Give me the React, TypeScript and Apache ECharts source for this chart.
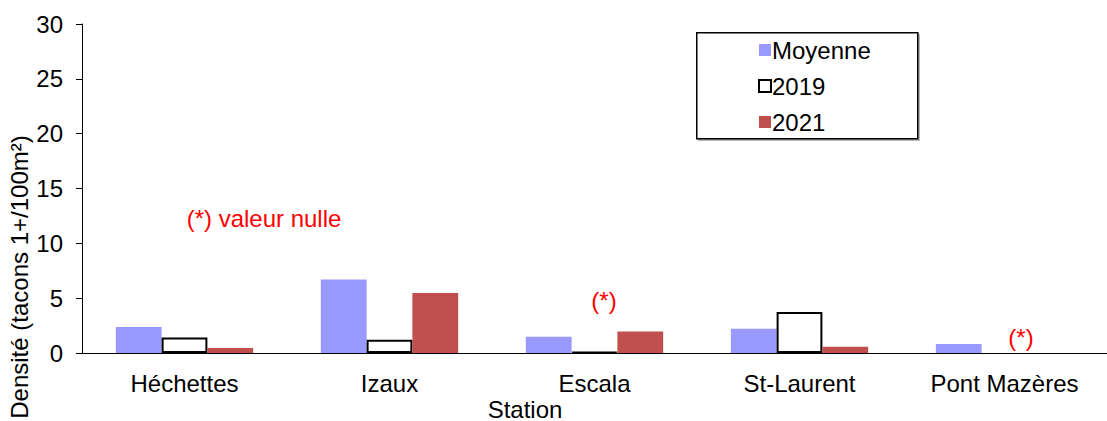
import React, { useEffect, useRef } from "react";
import * as echarts from "echarts";

// Densité de tacons par station
const stations = ["Héchettes", "Izaux", "Escala", "St-Laurent", "Pont Mazères"];
const moyenne = [2.37, 6.7, 1.49, 2.22, 0.82];
const annee2019 = [1.42, 1.21, 0, 3.74, null];
const annee2021 = [0.46, 5.46, 1.97, 0.57, null];
const seriesNames = ["Moyenne", "2019", "2021"];
const yTicks = { min: 0, max: 30, interval: 5 };

const FONT = "Liberation Sans, Arial, sans-serif";
const FS = 24;

export default function App() {
  const ref = useRef<HTMLDivElement>(null);

  useEffect(() => {
    document.body.style.margin = "0";
    const chart = echarts.init(ref.current!, undefined, { renderer: "svg" });
    const redText = (text: string, x: number, y: number) => ({
      type: "text",
      x,
      y,
      style: {
        text,
        fontSize: FS,
        fontFamily: FONT,
        fill: "#ff0000",
        align: "center",
        verticalAlign: "middle",
      },
    });
    chart.setOption({
      animation: false,
      backgroundColor: "#ffffff",
      textStyle: { fontFamily: FONT },
      grid: { left: 82, top: 24, width: 1033, height: 329, containLabel: false },
      legend: {
        orient: "vertical",
        left: 753,
        top: 33,
        itemWidth: 12,
        itemHeight: 12,
        itemGap: 12,
        icon: "rect",
        textStyle: { fontFamily: FONT, fontSize: FS, color: "#000", padding: [0, 0, 0, -4] },
        data: seriesNames,
      },
      xAxis: {
        type: "category",
        data: stations,
        axisLine: { lineStyle: { color: "#000", width: 1 } },
        axisTick: { length: 7, lineStyle: { color: "#000" } },
        axisLabel: { color: "#000", fontSize: FS, margin: 18, fontFamily: FONT },
      },
      yAxis: {
        type: "value",
        min: yTicks.min,
        max: yTicks.max,
        interval: yTicks.interval,
        splitLine: { show: false },
        axisLine: { show: true, lineStyle: { color: "#000", width: 1 } },
        axisTick: { show: true, length: 6, lineStyle: { color: "#000" } },
        axisLabel: { color: "#000", fontSize: FS, margin: 19, fontFamily: FONT },
      },
      graphic: [
        {
          type: "rect",
          left: 698,
          top: 34,
          shape: { width: 222, height: 107 },
          style: { fill: "#888", opacity: 0.6 },
          z: 0,
        },
        {
          type: "rect",
          left: 696,
          top: 32,
          shape: { width: 221, height: 106 },
          style: { fill: "#fff", stroke: "#000", lineWidth: 1.5 },
          z: 1,
        },
        {
          type: "text",
          x: 19,
          y: 277,
          rotation: Math.PI / 2,
          style: {
            text: "Densité (tacons 1+/100m²)",
            fontSize: FS,
            fontFamily: FONT,
            fill: "#000",
            align: "center",
            verticalAlign: "middle",
          },
        },
        {
          type: "text",
          x: 525,
          y: 409,
          style: {
            text: "Station",
            fontSize: FS,
            fontFamily: FONT,
            fill: "#000",
            align: "center",
            verticalAlign: "middle",
          },
        },
        redText("(*) valeur nulle", 264, 218),
        redText("(*)", 604, 300),
        redText("(*)", 1021, 337),
      ],
      series: [
        {
          name: seriesNames[0],
          type: "bar",
          data: moyenne,
          barGap: "0%",
          barCategoryGap: "33%",
          itemStyle: { color: "#9999ff" },
          z: 3,
        },
        {
          name: seriesNames[1],
          type: "bar",
          data: annee2019,
          barGap: "0%",
          barCategoryGap: "33%",
          barMinHeight: 1,
          itemStyle: { color: "#ffffff", borderColor: "#000", borderWidth: 2 },
          z: 3,
        },
        {
          name: seriesNames[2],
          type: "bar",
          data: annee2021,
          barGap: "0%",
          barCategoryGap: "33%",
          itemStyle: { color: "#c0504d" },
          z: 3,
        },
      ],
    });
    return () => chart.dispose();
  }, []);

  return <div ref={ref} style={{ width: 1107, height: 421, overflow: "hidden" }} />;
}
